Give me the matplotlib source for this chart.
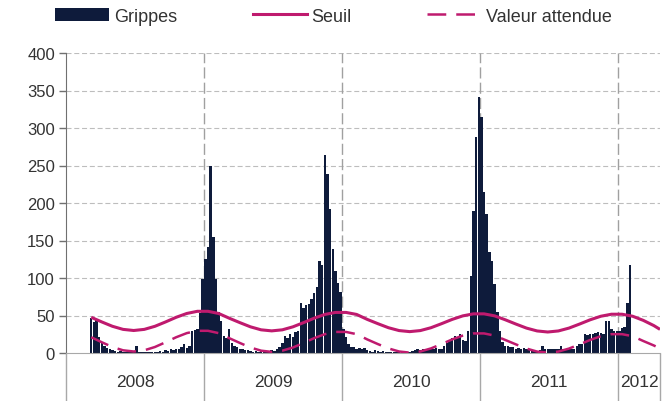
import numpy as np
import matplotlib
matplotlib.use("Agg")
import matplotlib.pyplot as plt
from matplotlib.lines import Line2D
from matplotlib.patches import Patch

plt.rcParams['font.family'] = ['Liberation Sans', 'DejaVu Sans']

nan = np.nan
years = ["2008", "2009", "2010", "2011", "2012"]
series_names = ["Grippes", "Seuil", "Valeur attendue"]

grippes_2008 = [nan] * 9 + [47, 41, 45, 22, 14, 10, 7, 5, 4, 3, 2, 3, 2, 1, 2, 2, 3, 10, 2, 1,
                            2, 1, 1, 2, 1, 2, 3, 2, 4, 3, 5, 4, 6, 5, 8, 12, 7, 10, 29, 31,
                            32, 54, 99]
grippes_2009 = [125, 141, 250, 155, 99, 55, 43, 23, 20, 32, 14, 10, 8, 6, 5, 4, 4, 3, 2, 3,
                2, 3, 2, 2, 3, 4, 3, 5, 8, 14, 23, 20, 26, 22, 28, 30, 67, 60, 64, 66,
                72, 80, 88, 123, 117, 264, 239, 192, 139, 110, 94, 81]
grippes_2010 = [32, 21, 12, 8, 8, 5, 7, 6, 7, 4, 3, 2, 4, 3, 2, 3, 1, 2, 1, 1,
                2, 1, 1, 2, 1, 2, 3, 4, 5, 4, 5, 6, 5, 6, 5, 7, 5, 6, 9, 13,
                17, 20, 23, 21, 25, 18, 16, 29, 103, 189, 288, 341]
grippes_2011 = [315, 215, 185, 135, 123, 92, 55, 29, 15, 10, 9, 8, 8, 6, 7, 6, 7, 5, 4, 4,
                4, 3, 4, 9, 6, 6, 5, 6, 5, 6, 9, 6, 6, 5, 6, 6, 9, 12, 12, 25,
                24, 26, 25, 27, 28, 27, 25, 43, 43, 32, 30, 30]
grippes_2012 = [30, 33, 35, 67, 118]

# Seuil / Valeur attendue sampled every 4 weeks from week 9 of 2008, last point at the right edge
seuil = [47.6, 41.4, 35.6, 31.5, 30.0, 31.5, 35.6, 41.4, 47.6, 52.7, 55.6, 55.6, 52.7,
         46.4, 40.5, 34.9, 30.9, 29.5, 30.9, 34.9, 40.5, 46.4, 51.4, 54.1, 54.1, 51.4,
         44.8, 39.1, 33.7, 29.9, 28.5, 29.9, 33.7, 39.1, 44.8, 49.5, 52.2, 52.2, 49.5,
         44.3, 38.6, 33.2, 29.4, 28.0, 29.4, 33.2, 38.6, 44.3, 49.0, 51.7, 51.7, 49.0,
         43.5, 36.5, 31.5]
attendue = [21.0, 14.3, 8.0, 3.6, 2.0, 3.6, 8.0, 14.3, 21.0, 26.5, 29.6, 29.6, 26.5,
            19.8, 13.4, 7.3, 3.1, 1.5, 3.1, 7.3, 13.4, 19.8, 25.1, 28.1, 28.1, 25.1,
            18.1, 11.9, 6.1, 2.0, 0.5, 2.0, 6.1, 11.9, 18.1, 23.2, 26.1, 26.1, 23.2,
            17.4, 11.5, 5.9, 1.9, 0.5, 1.9, 5.9, 11.5, 17.4, 22.4, 25.1, 25.1, 22.4,
            16.0, 10.0, 6.0]

WEEKS = 52
grippes = np.array(grippes_2008 + grippes_2009 + grippes_2010 + grippes_2011 + grippes_2012, dtype=float)
week = np.arange(len(grippes)) + 0.5
x_end = 223.8
line_weeks = np.append(np.arange(9, 222, 4), 223.3) + 0.5

navy = '#0E1B3B'
magenta = '#BF1A6E'
txt = '#333333'

fig = plt.figure(figsize=(6.69, 4.02), dpi=100)
ax = fig.add_axes([66 / 669, 48 / 402, 594 / 669, 300 / 402])

ax.bar(week, np.nan_to_num(grippes), width=0.92, color=navy, linewidth=0, zorder=2)
ax.plot(line_weeks, seuil, color=magenta, lw=2.2, zorder=3, solid_capstyle='butt')
ax.plot(line_weeks, attendue, color=magenta, lw=1.8, dashes=(7.5, 4), zorder=3)

ax.set_xlim(0, x_end)
ax.set_ylim(0, 400)
ax.set_yticks(range(0, 401, 50))
for yv in range(50, 401, 50):
    ax.axhline(yv, color='#BDBDBD', lw=0.8, dashes=(4.5, 2.5), zorder=0)

bounds = [WEEKS * k for k in range(1, 5)]
for b in bounds:
    ax.axvline(b, color='#A0A0A0', lw=1.0, dashes=(8, 3), zorder=1)

trans = ax.get_xaxis_transform()
ax.vlines([0] + bounds + [x_end], -0.165, 0, transform=trans, colors='#A8A8A8', lw=1.0, clip_on=False)
centers = [WEEKS * k + WEEKS / 2 for k in range(4)] + [(WEEKS * 4 + x_end) / 2]
for c, lab in zip(centers, years):
    ax.text(c, -0.095, lab, transform=trans, ha='center', va='center', fontsize=12.5, color=txt)

ax.set_xticks([])
for s in ['top', 'right']:
    ax.spines[s].set_visible(False)
ax.spines['bottom'].set_color('#A8A8A8')
ax.spines['left'].set_color('#707070')
ax.spines['left'].set_bounds(0, 400)
ax.tick_params(axis='y', length=5, width=1, color='#707070', labelsize=12, labelcolor=txt, pad=3)

handles = [Patch(facecolor=navy, edgecolor='none'),
           Line2D([], [], color=magenta, lw=2.2),
           Line2D([], [], color=magenta, lw=1.8, dashes=(7.5, 4))]
fig.legend(handles, series_names, loc='center left', bbox_to_anchor=(55 / 669, 1 - 17 / 402),
           ncol=3, frameon=False, fontsize=13, handlelength=3.0, handletextpad=0.25,
           columnspacing=4.2, borderpad=0, borderaxespad=0, labelcolor=txt)

fig.savefig('out.png', dpi=100)
